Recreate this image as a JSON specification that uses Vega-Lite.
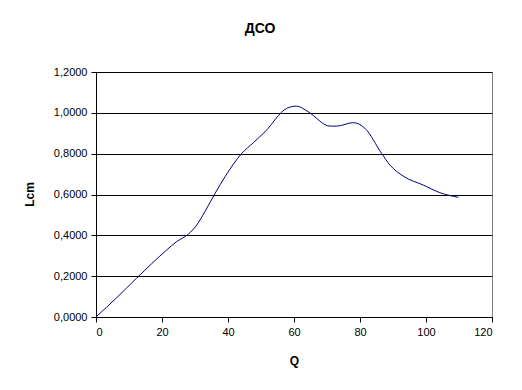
{
  "$schema": "https://vega.github.io/schema/vega-lite/v6.json",
  "width": 396,
  "height": 245,
  "autosize": {"type": "none"},
  "padding": {"left": 96, "top": 72, "right": 30, "bottom": 73},
  "background": "white",
  "config": {
    "locale": {"number": {"decimal": ",", "thousands": " ", "grouping": [3], "currency": ["", ""]}},
    "font": "Liberation Sans",
    "view": {"stroke": "#808080", "strokeWidth": 1}
  },
  "title": {"text": "ДСО", "fontSize": 14, "fontWeight": "bold", "font": "Liberation Sans", "color": "black", "anchor": "middle", "frame": "group", "dx": -34, "offset": 30},
  "data": {"values": [
    {"Q": 0, "L": 0},
    {"Q": 6.3, "L": 0.095},
    {"Q": 12.3, "L": 0.19},
    {"Q": 21.4, "L": 0.328},
    {"Q": 24.4, "L": 0.369},
    {"Q": 28, "L": 0.406},
    {"Q": 30.5, "L": 0.45},
    {"Q": 33, "L": 0.516},
    {"Q": 36.1, "L": 0.606},
    {"Q": 39.1, "L": 0.687},
    {"Q": 44.1, "L": 0.8},
    {"Q": 47.7, "L": 0.854},
    {"Q": 51.2, "L": 0.907},
    {"Q": 57.8, "L": 1.022},
    {"Q": 60.8, "L": 1.033},
    {"Q": 64.3, "L": 1.005},
    {"Q": 70.9, "L": 0.935},
    {"Q": 72.9, "L": 0.935},
    {"Q": 78, "L": 0.952},
    {"Q": 81.5, "L": 0.924},
    {"Q": 86.6, "L": 0.8},
    {"Q": 89.1, "L": 0.744},
    {"Q": 93.1, "L": 0.69},
    {"Q": 99.2, "L": 0.646},
    {"Q": 104.2, "L": 0.609},
    {"Q": 109.8, "L": 0.586}
  ]},
  "mark": {"type": "line", "interpolate": "monotone", "color": "#000080", "strokeWidth": 1},
  "encoding": {
    "x": {
      "field": "Q", "type": "quantitative",
      "scale": {"domain": [0, 120], "nice": false},
      "axis": {
        "title": "Q", "values": [0, 20, 40, 60, 80, 100, 120], "format": "d",
        "grid": false, "domainColor": "black", "tickColor": "black", "tickSize": 5,
        "labelColor": "black", "labelFontSize": 11, "labelPadding": 4, "labelFont": "Liberation Sans",
        "titleFontSize": 12, "titleFontWeight": "bold", "titleColor": "black", "titlePadding": 18, "titleFont": "Liberation Sans"
      }
    },
    "y": {
      "field": "L", "type": "quantitative",
      "scale": {"domain": [0, 1.2], "nice": false},
      "axis": {
        "title": "Lcm", "values": [0, 0.2, 0.4, 0.6, 0.8, 1.0, 1.2], "format": ".4f",
        "grid": true, "gridColor": "black", "gridOpacity": 1, "gridWidth": 1,
        "domainColor": "black", "tickColor": "black", "tickSize": 5,
        "labelColor": "black", "labelFontSize": 11, "labelPadding": 4, "labelFont": "Liberation Sans",
        "titleFontSize": 12, "titleFontWeight": "bold", "titleColor": "black", "titleFont": "Liberation Sans",
        "titleX": -67, "titleY": 122, "titleAngle": -90, "titleBaseline": "middle", "titleAlign": "center"
      }
    }
  }
}
